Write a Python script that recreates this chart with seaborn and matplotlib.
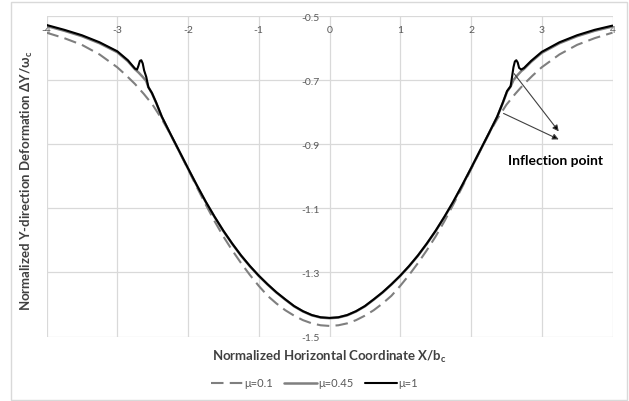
import matplotlib
matplotlib.use("Agg")
import matplotlib.pyplot as plt
import seaborn as sns
import pandas as pd
from matplotlib.patches import Rectangle

# ---- data ----
x_mu1 = [-4.00, -3.75, -3.50, -3.25, -3.00, -2.85, -2.75, -2.72, -2.70, -2.68, -2.66, -2.64,
         -2.62, -2.59, -2.56, -2.51, -2.45, -2.37, -2.25, -2.125, -2.00, -1.875, -1.75, -1.625,
         -1.50, -1.375, -1.25, -1.125, -1.00, -0.875, -0.75, -0.625, -0.50, -0.375, -0.25, -0.125,
         0.00, 0.125, 0.25, 0.375, 0.50, 0.625, 0.75, 0.875, 1.00, 1.125, 1.25, 1.375, 1.50,
         1.625, 1.75, 1.875, 2.00, 2.125, 2.25, 2.37, 2.45, 2.51, 2.56, 2.58, 2.60, 2.62, 2.64,
         2.66, 2.68, 2.71, 2.75, 2.85, 3.00, 3.25, 3.50, 3.75, 4.00]
y_mu1 = [-0.528, -0.543, -0.560, -0.582, -0.610, -0.638, -0.664, -0.667, -0.655, -0.640, -0.638, -0.648,
         -0.670, -0.690, -0.722, -0.740, -0.770, -0.814, -0.867, -0.921, -0.975, -1.028, -1.079, -1.126,
         -1.170, -1.210, -1.247, -1.280, -1.310, -1.337, -1.362, -1.384, -1.405, -1.421, -1.433, -1.440,
         -1.442, -1.440, -1.433, -1.421, -1.405, -1.384, -1.362, -1.337, -1.310, -1.280, -1.247, -1.210, -1.170,
         -1.126, -1.079, -1.028, -0.975, -0.921, -0.867, -0.814, -0.770, -0.734, -0.719, -0.690, -0.660, -0.642, -0.638,
         -0.645, -0.662, -0.667, -0.662, -0.640, -0.612, -0.582, -0.560, -0.543, -0.530]

x_mu045 = [-4.00, -3.75, -3.50, -3.25, -3.00, -2.85, -2.75, -2.70, -2.64, -2.59, -2.56, -2.51,
           -2.45, -2.37, -2.25, -2.125, -2.00, -1.875, -1.75, -1.625, -1.50, -1.375, -1.25, -1.125,
           -1.00, -0.875, -0.75, -0.625, -0.50, -0.375, -0.25, -0.125, 0.00, 0.125, 0.25, 0.375,
           0.50, 0.625, 0.75, 0.875, 1.00, 1.125, 1.25, 1.375, 1.50, 1.625, 1.75, 1.875, 2.00,
           2.125, 2.25, 2.37, 2.45, 2.51, 2.56, 2.60, 2.66, 2.71, 2.75, 2.85, 3.00, 3.25, 3.50,
           3.75, 4.00]
y_mu045 = [-0.531, -0.546, -0.563, -0.585, -0.613, -0.641, -0.666, -0.676, -0.690, -0.703, -0.722, -0.741,
           -0.771, -0.815, -0.868, -0.922, -0.976, -1.029, -1.080, -1.127, -1.171, -1.211, -1.248, -1.281,
           -1.311, -1.338, -1.363, -1.385, -1.406, -1.422, -1.434, -1.441, -1.443, -1.441, -1.434, -1.422,
           -1.406, -1.385, -1.363, -1.338, -1.311, -1.281, -1.248, -1.211, -1.171, -1.127, -1.080, -1.029, -0.976,
           -0.922, -0.868, -0.815, -0.771, -0.736, -0.720, -0.700, -0.684, -0.672, -0.665, -0.643, -0.615, -0.585, -0.563,
           -0.546, -0.533]

x_mu01 = [-4.00, -3.75, -3.50, -3.25, -3.00, -2.875, -2.75, -2.625, -2.50, -2.375, -2.25, -2.125,
          -2.00, -1.875, -1.75, -1.625, -1.50, -1.375, -1.25, -1.125, -1.00, -0.875, -0.75, -0.625,
          -0.50, -0.375, -0.25, -0.125, 0.00, 0.125, 0.25, 0.375, 0.50, 0.625, 0.75, 0.875, 1.00,
          1.125, 1.25, 1.375, 1.50, 1.625, 1.75, 1.875, 2.00, 2.125, 2.25, 2.375, 2.50, 2.625,
          2.75, 2.875, 3.00, 3.25, 3.50, 3.75, 4.00]
y_mu01 = [-0.552, -0.569, -0.590, -0.620, -0.660, -0.685, -0.712, -0.743, -0.777, -0.820, -0.868, -0.922,
          -0.978, -1.034, -1.088, -1.140, -1.188, -1.231, -1.271, -1.308, -1.342, -1.373, -1.397, -1.418,
          -1.435, -1.449, -1.459, -1.465, -1.467, -1.465, -1.459, -1.449, -1.435, -1.418, -1.397, -1.373, -1.342,
          -1.308, -1.271, -1.231, -1.188, -1.140, -1.088, -1.034, -0.978, -0.922, -0.868, -0.820, -0.777, -0.743,
          -0.712, -0.685, -0.660, -0.620, -0.590, -0.569, -0.552]

labels = ["\u03bc=0.1", "\u03bc=0.45", "\u03bc=1"]
x_ticks = [-4, -3, -2, -1, 0, 1, 2, 3, 4]
y_ticks = [-0.5, -0.7, -0.9, -1.1, -1.3, -1.5]
y_tick_labels = ["-0.5", "-0.7", "-0.9", "-1.1", "-1.3", "-1.5"]

df01 = pd.DataFrame({"x": x_mu01, "y": y_mu01})
df045 = pd.DataFrame({"x": x_mu045, "y": y_mu045})
df1 = pd.DataFrame({"x": x_mu1, "y": y_mu1})

sns.set_style("white")
plt.rcParams["font.family"] = ["Lato", "DejaVu Sans"]

fig = plt.figure(figsize=(6.29, 4.02), dpi=100)
ax = fig.add_axes([46.5 / 629, 1 - 337.5 / 402, (612.5 - 46.5) / 629, (337.5 - 17) / 402])

grid_c = "#d9d9d9"
for xv in x_ticks:
    ax.axvline(xv, color=grid_c, lw=0.9, zorder=0)
for yv in y_ticks:
    ax.axhline(yv, color=grid_c, lw=0.9, zorder=0)

sns.lineplot(data=df01, x="x", y="y", ax=ax, color="#7f7f7f", lw=1.5, estimator=None,
             dashes=False, label=labels[0], linestyle=(0, (6, 3)), zorder=3)
sns.lineplot(data=df045, x="x", y="y", ax=ax, color="#7f7f7f", lw=1.8, estimator=None,
             label=labels[1], zorder=4)
sns.lineplot(data=df1, x="x", y="y", ax=ax, color="black", lw=1.5, estimator=None,
             label=labels[2], zorder=5)

ax.set_xlim(-4, 4)
ax.set_ylim(-1.5, -0.5)
for s in ax.spines.values():
    s.set_visible(False)

ax.set_xticks(x_ticks)
ax.set_xticklabels([str(v) for v in x_ticks])
ax.tick_params(axis="x", top=False, bottom=False, labeltop=True, labelbottom=False,
               pad=-13, labelsize=7.5, labelcolor="#595959", length=0)
ax.spines["left"].set_position(("data", 0))
ax.set_yticks(y_ticks)
ax.set_yticklabels(y_tick_labels)
ax.tick_params(axis="y", left=False, labelsize=7.5, labelcolor="#595959", length=0, pad=7)

ax.set_xlabel("Normalized Horizontal Coordinate X/b$_\\mathregular{c}$", fontsize=9.5,
              fontweight="bold", color="#404040")
ax.xaxis.set_label_coords(0.5, -0.035, transform=ax.transAxes)
ax.xaxis.label.set_va("top")
ax.set_ylabel("Normalized Y-direction Deformation \u0394Y/\u03c9$_\\mathregular{c}$", fontsize=9.5,
              fontweight="bold", color="#404040")
ax.yaxis.set_label_coords(-0.02, 0.49, transform=ax.transAxes)

# annotations
ax.annotate("", xy=(3.24, -0.860), xytext=(2.61, -0.680),
            arrowprops=dict(arrowstyle="-|>", color="#404040", lw=0.8, mutation_scale=9,
                            shrinkA=0, shrinkB=0, fc="black"), zorder=6)
ax.annotate("", xy=(3.24, -0.885), xytext=(2.46, -0.804),
            arrowprops=dict(arrowstyle="-|>", color="#404040", lw=0.8, mutation_scale=9,
                            shrinkA=0, shrinkB=0, fc="black"), zorder=6)
ax.text(3.20, -0.950, "Inflection point", ha="center", va="center", fontsize=10,
        fontweight="bold", color="black")

leg = ax.legend(loc="center", bbox_to_anchor=(0.5, 1 - 384 / 402), bbox_transform=fig.transFigure,
                ncol=3, frameon=False, fontsize=8, handlelength=2.9, handletextpad=0.15,
                columnspacing=1.0)
for t in leg.get_texts():
    t.set_color("#595959")

fig.patches.append(Rectangle((11 / 629, 1 - 401 / 402), (627 - 11) / 629, (401 - 3) / 402,
                             transform=fig.transFigure, fill=False, edgecolor=grid_c, lw=1))

fig.savefig("out.png", dpi=100)
